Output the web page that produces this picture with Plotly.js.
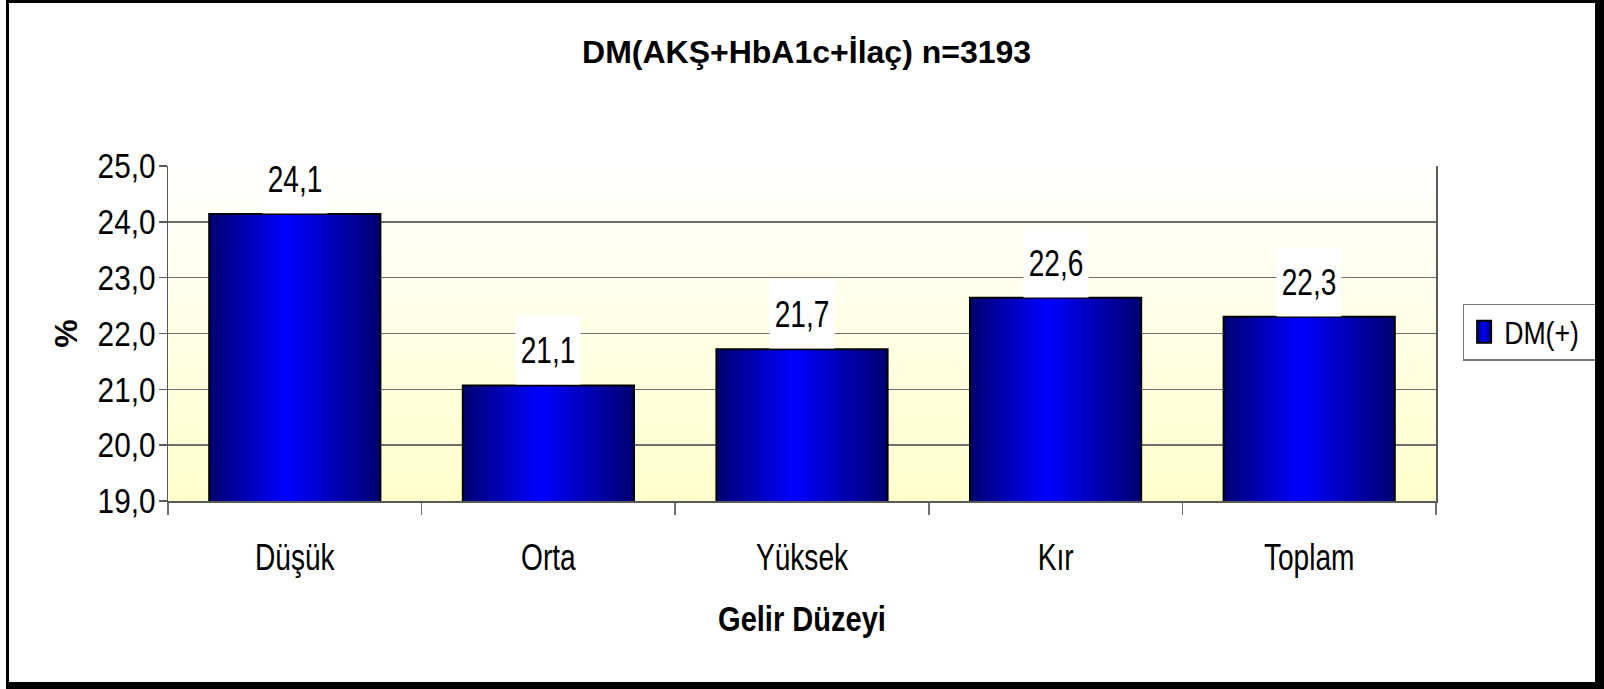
<!DOCTYPE html>
<html>
<head>
<meta charset="utf-8">
<script src="https://cdn.plot.ly/plotly-3.0.1.min.js"></script>
<style>
  html, body { margin: 0; padding: 0; background: #ffffff; }
  #chart { position: absolute; left: 0; top: 0; width: 1604px; height: 689px; }
  #frame { position: absolute; left: 6px; top: 0; width: 1598px; height: 689px; box-sizing: border-box;
           border-left: 3px solid #000; border-top: 3px solid #000; border-right: 9px solid #000; border-bottom: 7px solid #000;
           pointer-events: none; }
</style>
</head>
<body>
<div id="chart"></div>
<div id="frame"></div>
<script>
// ---- data ----
const categories = ["Düşük", "Orta", "Yüksek", "Kır", "Toplam"];
const dmValues = [24.14, 21.07, 21.72, 22.64, 22.30];
const seriesName = "DM(+)";
const yTickValues = [19, 20, 21, 22, 23, 24, 25];
const chartTitle = "DM(AKŞ+HbA1c+İlaç) n=3193";
const xAxisTitle = "Gelir Düzeyi";
const yAxisTitle = "%";

// ---- styling ----
const FONT = "'Liberation Sans', Arial, sans-serif";

const labelText = dmValues.map(v => v.toFixed(1).replace('.', ','));

const trace = {
  type: 'bar',
  x: categories,
  y: dmValues,
  name: seriesName,
  marker: { color: '#0000e0', line: { color: '#000000', width: 2 } },
  hoverinfo: 'none',
  showlegend: true
};

const annotations = categories.map((c, i) => ({
  x: c, y: dmValues[i], xref: 'x', yref: 'y',
  text: labelText[i], showarrow: false,
  yanchor: 'bottom', xanchor: 'center',
  bgcolor: '#ffffff', width: 62, height: 66, borderpad: 1, valign: 'middle',
  font: { family: FONT, size: 36, color: '#000000' }
}));

const layout = {
  width: 1604, height: 689,
  margin: { l: 168, r: 168, t: 166, b: 188, autoexpand: false },
  paper_bgcolor: '#ffffff',
  plot_bgcolor: '#fffff0',
  separators: ',.',
  bargap: 0.325,
  showlegend: true,
  title: {
    text: chartTitle,
    font: { family: FONT, size: 32, color: '#000000', weight: 'bold' },
    x: 0.5036, xanchor: 'center', xref: 'paper',
    y: 1 - 52 / 689, yanchor: 'middle', yref: 'container'
  },
  xaxis: {
    type: 'category',
    tickson: 'boundaries',
    ticks: 'outside', ticklen: 12, tickwidth: 1.5, tickcolor: '#707070',
    showline: true, linecolor: '#5a5a5a', linewidth: 1.5,
    showgrid: false,
    ticklabelstandoff: 24,
    tickfont: { family: FONT, size: 36, color: '#000000' },
    title: { text: xAxisTitle, standoff: 30,
             font: { family: FONT, size: 35, color: '#000000', weight: 'bold' } }
  },
  yaxis: {
    range: [19, 25],
    tickvals: yTickValues,
    tickformat: '.1f',
    ticks: 'outside', ticklen: 8, tickwidth: 1.5, tickcolor: '#5a5a5a',
    showline: true, linecolor: '#5a5a5a', linewidth: 1.5, mirror: true,
    showgrid: true, gridcolor: '#6e6e6e', gridwidth: 1.5,
    zeroline: false,
    ticklabelstandoff: -4,
    tickfont: { family: FONT, size: 35, color: '#000000' },
    title: { text: yAxisTitle, standoff: 0,
             font: { family: FONT, size: 32, color: '#000000', weight: 'bold' } }
  },
  legend: {
    x: 1.021, xanchor: 'left', xref: 'paper',
    y: 0.504, yanchor: 'middle', yref: 'paper',
    bgcolor: '#ffffff', bordercolor: '#7a7a7a', borderwidth: 1.5,
    font: { family: FONT, size: 31, color: '#000000' },
    itemwidth: 30
  },
  annotations: annotations
};

function condense(el, factor) {
  if (el.getAttribute('data-cond')) return;
  const len = el.getComputedTextLength();
  if (!len) return;
  el.setAttribute('textLength', (len * factor).toFixed(2));
  el.setAttribute('lengthAdjust', 'spacingAndGlyphs');
  el.setAttribute('data-cond', '1');
}

function addGradients() {
  const gd = document.getElementById('chart');
  const svgs = gd.querySelectorAll('svg.main-svg');
  if (!svgs.length) return;
  const svg = svgs[0];
  const NS = 'http://www.w3.org/2000/svg';
  if (!document.getElementById('barGrad')) {
    const defs = document.createElementNS(NS, 'defs');
    defs.innerHTML =
      '<linearGradient id="barGrad" x1="0" y1="0" x2="1" y2="0">' +
        '<stop offset="0" stop-color="#000070"/>' +
        '<stop offset="0.45" stop-color="#0000ff"/>' +
        '<stop offset="1" stop-color="#000070"/>' +
      '</linearGradient>' +
      '<linearGradient id="bgGrad" x1="0" y1="0" x2="0" y2="1">' +
        '<stop offset="0" stop-color="#ffffff"/>' +
        '<stop offset="1" stop-color="#ffffcc"/>' +
      '</linearGradient>';
    svg.insertBefore(defs, svg.firstChild);
  }
  gd.querySelectorAll('.bglayer rect.bg').forEach(r => { r.style.fill = 'url(#bgGrad)'; });
  gd.querySelectorAll('.trace.bars .point path').forEach(p => { p.style.fill = 'url(#barGrad)'; });
  gd.querySelectorAll('.legend .legendpoints path').forEach(p => {
    p.style.fill = 'url(#barGrad)';
    p.setAttribute('d', 'M7,11H-7V-11H7Z');
    p.style.strokeWidth = '2px';
  });
  // emulate the condensed face of the original
  gd.querySelectorAll('g.ytick text').forEach(t => condense(t, 0.85));
  gd.querySelectorAll('g.xtick text').forEach(t => condense(t, 0.78));
  gd.querySelectorAll('text.annotation-text').forEach(t => condense(t, 0.78));
  gd.querySelectorAll('text.xtitle').forEach(t => condense(t, 0.83));
  gd.querySelectorAll('.legend text.legendtext').forEach(t => condense(t, 0.86));
}

Plotly.newPlot('chart', [trace], layout, { displayModeBar: false, staticPlot: true }).then(gd => {
  addGradients();
  gd.on('plotly_afterplot', addGradients);
});
</script>
</body>
</html>
